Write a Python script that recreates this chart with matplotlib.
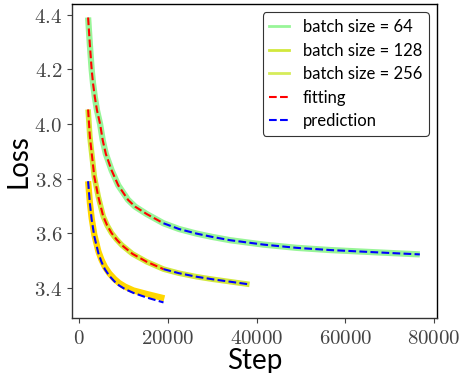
import matplotlib
matplotlib.use("Agg")
import matplotlib.pyplot as plt
from matplotlib.lines import Line2D
from matplotlib.ticker import FuncFormatter, FixedLocator

plt.rcParams['mathtext.fontset'] = 'cm'
plt.rcParams['font.family'] = ['Lato', 'DejaVu Sans']

# ---- data ----
steps64 = [2000, 2400, 2800, 3100, 3500, 4000, 4700, 5300, 6000, 7300, 8800, 11000,
           12600, 15200, 19000, 22500, 26500, 30000, 34000, 41500, 49000, 56500,
           64000, 71500, 76800]
loss64 = [4.39, 4.29, 4.20, 4.15, 4.10, 4.05, 4.00, 3.94, 3.89, 3.83, 3.775, 3.722,
          3.697, 3.670, 3.636, 3.615, 3.598, 3.586, 3.574, 3.558, 3.546, 3.538,
          3.532, 3.526, 3.522]

steps128 = [2000, 2400, 2900, 3400, 4300, 5400, 6300, 7300, 8400, 9600, 12000,
            15200, 19000, 22500, 26500, 30000, 34000, 38400]
loss128 = [4.053, 3.953, 3.880, 3.807, 3.733, 3.662, 3.628, 3.600, 3.577, 3.556,
           3.524, 3.495, 3.468, 3.453, 3.440, 3.431, 3.422, 3.412]

steps256 = [2000, 2400, 2800, 3400, 4300, 5000, 5800, 6800, 8000, 9000, 10300,
            12200, 15200, 19200]
loss256 = [3.79, 3.712, 3.655, 3.594, 3.534, 3.503, 3.476, 3.452, 3.431, 3.417,
           3.404, 3.390, 3.377, 3.361]

fit_cut = 19000  # fitting up to this step, prediction afterwards

fit64_steps = [s for s in steps64 if s <= fit_cut]
fit64_loss = loss64[:len(fit64_steps)]
pred64_steps = steps64[len(fit64_steps) - 1:]
pred64_loss = loss64[len(fit64_steps) - 1:]

fit128_steps = [s for s in steps128 if s <= fit_cut]
fit128_loss = loss128[:len(fit128_steps)]
pred128_steps = steps128[len(fit128_steps) - 1:]
pred128_loss = loss128[len(fit128_steps) - 1:]

pred256_steps = [2000, 2400, 2800, 3400, 4300, 5000, 5800, 6800, 8000, 9000, 10300,
                 12200, 15200, 19000]
pred256_loss = [3.79, 3.709, 3.650, 3.588, 3.527, 3.495, 3.467, 3.443, 3.422, 3.408,
                3.395, 3.381, 3.364, 3.346]

labels = ["batch size = 64", "batch size = 128", "batch size = 256",
          "fitting", "prediction"]
xticks = [0, 20000, 40000, 60000, 80000]
yticks = [3.4, 3.6, 3.8, 4.0, 4.2, 4.4]

c64 = '#98f598'
c128 = '#d2e83c'
c256 = '#ffd700'
c256_leg = '#d6ec5a'

fig = plt.figure(figsize=(4.61, 3.73), dpi=100)
ax = fig.add_axes([0.156, 0.1475, 0.792, 0.8415])

ax.plot(steps64, loss64, color=c64, lw=4.5, solid_capstyle='butt', zorder=2)
ax.plot(steps128, loss128, color=c128, lw=4.0, solid_capstyle='butt', zorder=2)
ax.plot(steps256, loss256, color=c256, lw=4.5, solid_capstyle='butt', zorder=2)

ax.plot(fit64_steps, fit64_loss, color='red', ls='--', lw=1.5, zorder=3)
ax.plot(pred64_steps, pred64_loss, color='blue', ls='--', lw=1.5, zorder=3)
ax.plot(fit128_steps, fit128_loss, color='red', ls='--', lw=1.5, zorder=3)
ax.plot(pred128_steps, pred128_loss, color='blue', ls='--', lw=1.5, zorder=3)
ax.plot(pred256_steps, pred256_loss, color='blue', ls='--', lw=1.5, zorder=3)

ax.set_xlim(-1650, 80680)
ax.set_ylim(3.289, 4.439)
ax.xaxis.set_major_locator(FixedLocator(xticks))
ax.yaxis.set_major_locator(FixedLocator(yticks))
ax.xaxis.set_major_formatter(FuncFormatter(lambda v, p: r"$%d$" % v))
ax.yaxis.set_major_formatter(FuncFormatter(lambda v, p: r"$%.1f$" % v))
ax.tick_params(axis='both', labelsize=15, labelcolor='#444444', color='#444444',
               length=3.5, width=0.8)
for s in ax.spines.values():
    s.set_linewidth(1.0)
    s.set_color('black')
ax.spines['left'].set_color('#333333')
ax.spines['bottom'].set_color('#333333')

ax.set_xlabel("Step", fontsize=20, labelpad=0)
ax.set_ylabel("Loss", fontsize=20, labelpad=2)

handles = [Line2D([], [], color=c64, lw=2),
           Line2D([], [], color=c128, lw=2),
           Line2D([], [], color=c256_leg, lw=2),
           Line2D([], [], color='red', ls='--', lw=1.5),
           Line2D([], [], color='blue', ls='--', lw=1.5)]
leg = ax.legend(handles, labels, loc='upper right', fontsize=12, handlelength=1.2,
                frameon=True, fancybox=True, framealpha=1.0, edgecolor='#333333',
                labelspacing=0.45)
leg.get_frame().set_linewidth(0.8)

fig.savefig("out.png", dpi=100)
